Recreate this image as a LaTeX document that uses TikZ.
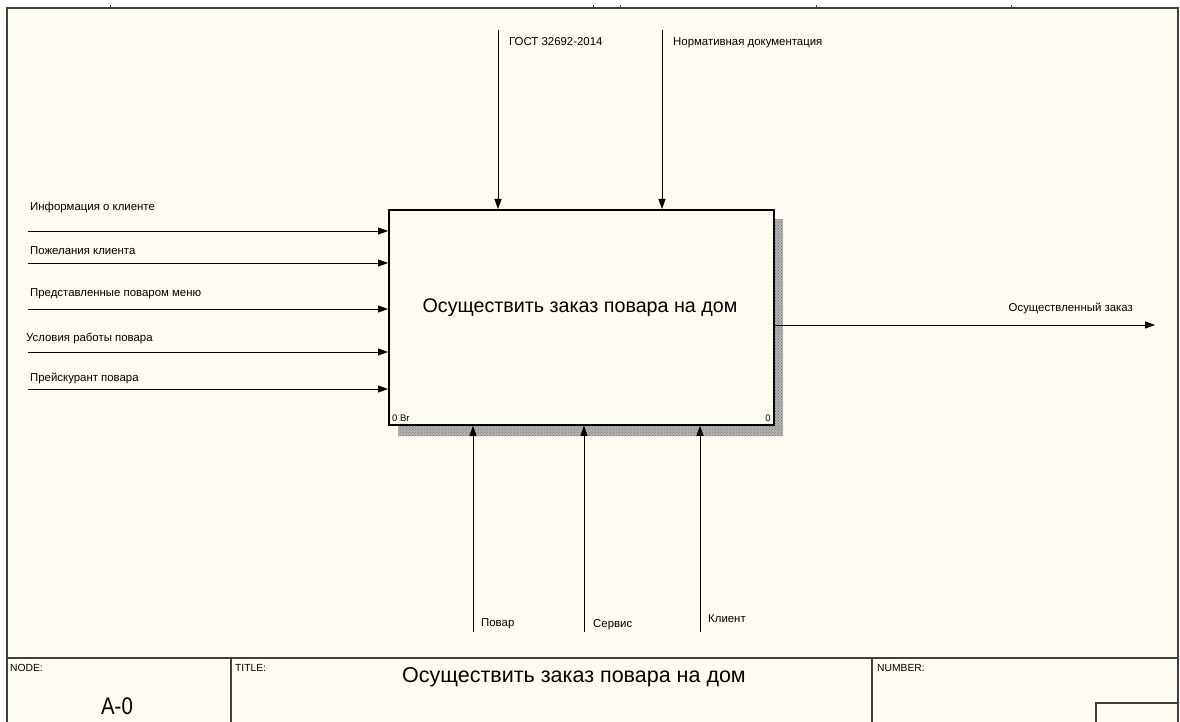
\documentclass[tikz,border=0pt]{standalone}
\usepackage{fontspec}
\setmainfont{Liberation Sans}
\usetikzlibrary{arrows.meta,calc,patterns}
\definecolor{paper}{HTML}{FEFCF1}
\definecolor{framec}{HTML}{404040}
\begin{document}
\begin{tikzpicture}[x=1pt,y=-1pt,
  arr/.style={draw=black,line width=0.9pt,-{Triangle[length=10pt,width=7pt]}},
  lbl/.style={inner sep=0pt,anchor=base west,font=\fontsize{11.4}{13}\selectfont},
  hdr/.style={inner sep=0pt,anchor=north west,font=\fontsize{10.3}{12}\selectfont},
  framepen/.style={draw=framec,line width=1.4pt}]
\useasboundingbox (0,0) rectangle (1180,722);
\fill[white] (0,0) rectangle (1180,722);
\fill[paper] (7,8) rectangle (1178,722);
% sheet frame
\draw[framepen] (7,722) -- (7,8) -- (1178,8) -- (1178,722);
\foreach \t in {110,593,620,816,1011} \draw[framec,line width=0.8pt] (\t,5) -- (\t,8);
% title block
\draw[framepen] (7,658) -- (1178,658);
\draw[framepen] (231,658) -- (231,722);
\draw[framepen] (872,658) -- (872,722);
\draw[framepen] (1096,722) -- (1096,703) -- (1178,703);
\node[hdr] (nodehdr) at (10,664) {NODE:};
\node[hdr] (titlehdr) at (235,664) {TITLE:};
\node[hdr] (numhdr) at (877,664) {NUMBER:};
\node[inner sep=0pt,font=\fontsize{24}{26}\selectfont] (nodeid) at (117,706) {\scalebox{0.85}[1]{A-0}};
\node[inner sep=0pt,font=\fontsize{21.5}{24}\selectfont] (titletxt) at (574,677) {Осуществить заказ повара на дом};
% activity box with hatched shadow
\fill[black!30] (398,219) rectangle (783,436);
\fill[pattern=crosshatch dots,pattern color=black!55] (398,219) rectangle (783,436);
\node[draw=black,line width=1.8pt,fill=paper,minimum width=385pt,minimum height=215pt,
      inner sep=0pt,anchor=north west] (fn) at (388,209) {};
\node[inner sep=0pt,font=\fontsize{19.7}{22}\selectfont] (fnname) at (580,308) {Осуществить заказ повара на дом};
\node[inner sep=0pt,anchor=south west,font=\fontsize{9.5}{10}\selectfont] (fnnum) at ($(fn.south west)+(4,-4)$) {0 Br};
\node[inner sep=0pt,anchor=south east,font=\fontsize{9.5}{10}\selectfont] (fncost) at ($(fn.south east)+(-4,-4)$) {0};
% inputs
\coordinate (i1) at (28,231);
\coordinate (i2) at (28,263);
\coordinate (i3) at (28,309);
\coordinate (i4) at (28,352);
\coordinate (i5) at (28,389);
\foreach \c in {i1,i2,i3,i4,i5} \draw[arr] (\c) -- (\c -| fn.west);
\node[lbl] (li1) at (30,211) {Информация о клиенте};
\node[lbl] (li2) at (30,254) {Пожелания клиента};
\node[lbl] (li3) at (30,296) {Представленные поваром меню};
\node[lbl] (li4) at (26,341) {Условия работы повара};
\node[lbl] (li5) at (30,381) {Прейскурант повара};
% controls
\coordinate (c1) at (498,30);
\coordinate (c2) at (662,30);
\foreach \c in {c1,c2} \draw[arr] (\c) -- (\c |- fn.north);
\node[lbl] (lc1) at (509,46) {ГОСТ 32692-2014};
\node[lbl] (lc2) at (673,46) {Нормативная документация};
% output
\coordinate (o1) at (1155,325);
\draw[arr] (o1 -| fn.east) -- (o1);
\node[lbl,anchor=base east] (lo1) at (1133,311) {Осуществленный заказ};
% mechanisms
\coordinate (m1) at (473,632);
\coordinate (m2) at (584,632);
\coordinate (m3) at (700,632);
\foreach \c in {m1,m2,m3} \draw[arr] (\c) -- (\c |- fn.south);
\node[lbl] (lm1) at (481,626) {Повар};
\node[lbl] (lm2) at (593,627) {Сервис};
\node[lbl] (lm3) at (708,622) {Клиент};
\end{tikzpicture}
\end{document}
